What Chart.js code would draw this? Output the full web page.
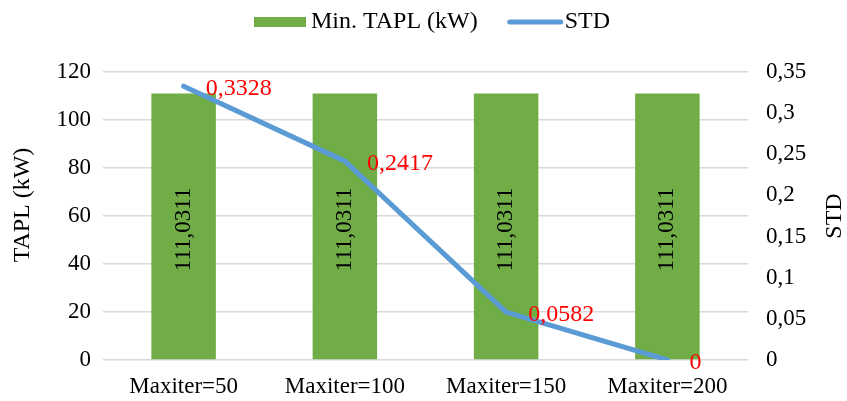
<!DOCTYPE html>
<html>
<head>
<meta charset="utf-8">
<script src="https://cdn.jsdelivr.net/npm/chart.js@4.4.1/dist/chart.umd.min.js"></script>
<style>
  html, body { margin: 0; padding: 0; background: #fff; overflow: hidden; }
  #c { display: block; }
</style>
</head>
<body>
<canvas id="c" width="847" height="401"></canvas>
<script>
// Categories and series
const categories = ['Maxiter=50', 'Maxiter=100', 'Maxiter=150', 'Maxiter=200'];
const minTapl = [111.0311, 111.0311, 111.0311, 111.0311];
const stdValues = [0.3328, 0.2417, 0.0582, 0];

// Axis tick settings
const leftTicks = { min: 0, max: 120, step: 20 };
const rightTicks = { min: 0, max: 0.35, step: 0.05 };

const FONT = '"Liberation Serif", "Times New Roman", serif';
const GREEN = '#70AD47';
const BLUE = '#5B9BD5';

const fmt = v => String(Number(v.toFixed(4))).replace('.', ',');

// Draws value labels, axis titles and the legend
const decorations = {
  id: 'decorations',
  afterDatasetsDraw(chart) {
    const ctx = chart.ctx;
    ctx.save();
    // Bar value labels, rotated inside the bars
    const barMeta = chart.getDatasetMeta(0);
    ctx.font = '23px ' + FONT;
    ctx.fillStyle = '#000';
    ctx.textAlign = 'center';
    ctx.textBaseline = 'middle';
    barMeta.data.forEach((bar, i) => {
      const cy = (bar.y + bar.base) / 2 + 3;
      ctx.save();
      ctx.translate(bar.x, cy);
      ctx.rotate(-Math.PI / 2);
      ctx.fillText(fmt(minTapl[i]), 0, 0);
      ctx.restore();
    });
    // STD value labels in red, right of each point
    const lineMeta = chart.getDatasetMeta(1);
    ctx.font = '24px ' + FONT;
    ctx.fillStyle = '#FF0000';
    ctx.textAlign = 'left';
    lineMeta.data.forEach((pt, i) => {
      ctx.fillText(fmt(stdValues[i]), pt.x + 22, pt.y + 3);
    });
    ctx.restore();
  },
  afterDraw(chart) {
    const ctx = chart.ctx;
    const area = chart.chartArea;
    ctx.save();
    // Axis titles, both reading bottom to top
    ctx.font = '24px ' + FONT;
    ctx.fillStyle = '#000';
    ctx.textAlign = 'center';
    ctx.textBaseline = 'middle';
    const midY = (area.top + area.bottom) / 2;
    [[23, midY - 11, 'TAPL (kW)'], [835, midY, 'STD']].forEach(([x, y, t]) => {
      ctx.save();
      ctx.translate(x, y);
      ctx.rotate(-Math.PI / 2);
      ctx.fillText(t, 0, 0);
      ctx.restore();
    });
    // Legend
    const ly = 22;
    ctx.font = '24px ' + FONT;
    ctx.textAlign = 'left';
    let x = 254;
    ctx.fillStyle = GREEN;
    ctx.fillRect(x, ly - 5, 52, 10);
    x += 57;
    ctx.fillStyle = '#000';
    ctx.fillText('Min. TAPL (kW)', x, ly);
    x += ctx.measureText('Min. TAPL (kW)').width + 30;
    ctx.strokeStyle = BLUE;
    ctx.lineWidth = 5;
    ctx.lineCap = 'round';
    ctx.beginPath();
    ctx.moveTo(x + 2, ly);
    ctx.lineTo(x + 53, ly);
    ctx.stroke();
    x += 57;
    ctx.fillText('STD', x, ly);
    ctx.restore();
  }
};

new Chart(document.getElementById('c'), {
  data: {
    labels: categories,
    datasets: [
      {
        type: 'bar',
        label: 'Min. TAPL (kW)',
        data: minTapl,
        backgroundColor: GREEN,
        yAxisID: 'y',
        categoryPercentage: 1.0,
        barPercentage: 0.4,
        order: 2
      },
      {
        type: 'line',
        label: 'STD',
        data: stdValues,
        borderColor: BLUE,
        borderWidth: 5,
        borderCapStyle: 'round',
        borderJoinStyle: 'round',
        pointRadius: 0,
        tension: 0,
        yAxisID: 'y1',
        order: 1
      }
    ]
  },
  options: {
    responsive: false,
    animation: false,
    devicePixelRatio: 1,
    layout: { padding: { top: 72, left: 0, right: 0, bottom: 0 } },
    plugins: { legend: { display: false }, tooltip: { enabled: false } },
    scales: {
      x: {
        grid: { display: false, drawTicks: false },
        border: { display: false },
        ticks: { font: { family: FONT, size: 23 }, color: '#000', padding: 13, maxRotation: 0 },
        afterFit(s) { s.height = 41; }
      },
      y: {
        position: 'left',
        min: leftTicks.min, max: leftTicks.max,
        grid: { color: '#D9D9D9', lineWidth: 1.5, drawTicks: false },
        border: { display: false },
        ticks: { stepSize: leftTicks.step, font: { family: FONT, size: 23 }, color: '#000', padding: 12 },
        afterFit(s) { s.width = 103; }
      },
      y1: {
        position: 'right',
        min: rightTicks.min, max: rightTicks.max,
        grid: { display: false, drawTicks: false },
        border: { display: false },
        ticks: {
          stepSize: rightTicks.step, font: { family: FONT, size: 23 }, color: '#000', padding: 18,
          callback: v => fmt(Number(v.toFixed(2)))
        },
        afterFit(s) { s.width = 99; }
      }
    }
  },
  plugins: [decorations]
});
</script>
</body>
</html>
